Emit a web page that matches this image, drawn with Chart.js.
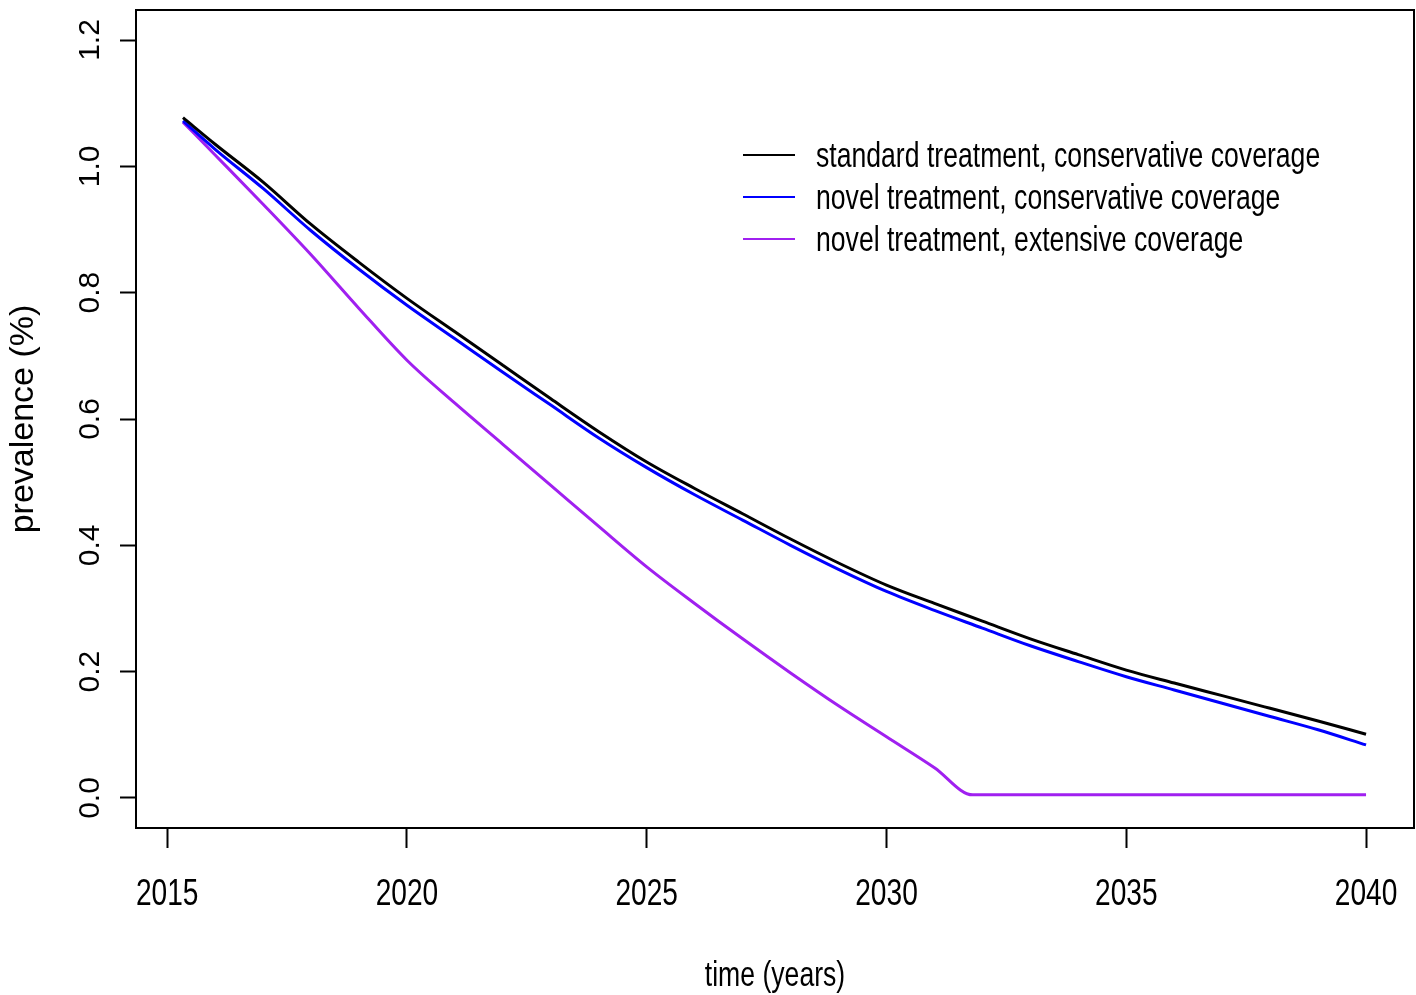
<!DOCTYPE html>
<html>
<head>
<meta charset="utf-8">
<script src="https://cdn.jsdelivr.net/npm/chart.js@4/dist/chart.umd.min.js"></script>
<style>
  html, body { margin: 0; padding: 0; background: #fff; }
  #wrap { width: 1416px; height: 995px; }
</style>
</head>
<body>
<div id="wrap"><canvas id="chart" width="1416" height="995"></canvas></div>
<script>
// Data
const years = [2015.33, 2016, 2017, 2018, 2019, 2020, 2021, 2022, 2023, 2024, 2025, 2026, 2027,
  2028, 2029, 2030, 2031, 2032, 2033, 2034, 2035, 2036, 2037, 2038, 2039, 2040];
const standardConservative = [1.077, 1.035, 0.975, 0.908, 0.848, 0.791, 0.738, 0.685, 0.632, 0.580,
  0.532, 0.490, 0.450, 0.410, 0.372, 0.337, 0.308, 0.280, 0.252, 0.227, 0.2025, 0.182, 0.162, 0.142, 0.122, 0.101];
const novelConservative = [1.072, 1.027, 0.965, 0.898, 0.837, 0.780, 0.727, 0.674, 0.622, 0.570,
  0.523, 0.480, 0.440, 0.400, 0.362, 0.327, 0.297, 0.269, 0.241, 0.216, 0.192, 0.171, 0.150, 0.129, 0.108, 0.084];
const extensiveYears = [2015.33, 2016, 2017, 2018, 2019, 2020, 2021, 2022, 2023, 2024, 2025, 2026, 2027,
  2028, 2029, 2030, 2031, 2031.8, 2040];
const novelExtensive = [1.070, 1.018, 0.940, 0.860, 0.775, 0.693, 0.625, 0.560, 0.495, 0.430,
  0.366, 0.308, 0.252, 0.198, 0.146, 0.097, 0.048, 0.005, 0.005];

const seriesNames = [
  'standard treatment, conservative coverage',
  'novel treatment, conservative coverage',
  'novel treatment, extensive coverage'
];
const xTicks = [2015, 2020, 2025, 2030, 2035, 2040];
const yTicks = [0.0, 0.2, 0.4, 0.6, 0.8, 1.0, 1.2];
const yTickLabels = ['0.0', '0.2', '0.4', '0.6', '0.8', '1.0', '1.2'];

const FONT = "'Liberation Sans', Arial, sans-serif";
const SQUEEZE = 0.76; // the x axis and legend text is condensed

const toPoints = (xs, ys) => xs.map((x, i) => ({ x: x, y: ys[i] }));

function narrowText(ctx, text, x, y) {
  ctx.save();
  ctx.translate(x, y);
  ctx.scale(SQUEEZE, 1);
  ctx.fillText(text, 0, 0);
  ctx.restore();
}

// R-style box, rotated y labels, titles and legend
const rStyle = {
  id: 'rStyle',
  afterDraw(chart) {
    const { ctx, chartArea: a, scales } = chart;
    ctx.save();
    ctx.strokeStyle = '#000';
    ctx.lineWidth = 2;
    ctx.strokeRect(a.left, a.top, a.right - a.left, a.bottom - a.top);

    ctx.fillStyle = '#000';
    // y tick labels, rotated
    ctx.font = '30px ' + FONT;
    ctx.textAlign = 'center';
    ctx.textBaseline = 'alphabetic';
    yTicks.forEach((v, i) => {
      const py = scales.y.getPixelForValue(v);
      ctx.save();
      ctx.translate(99, py);
      ctx.rotate(-Math.PI / 2);
      ctx.fillText(yTickLabels[i], 0, 0);
      ctx.restore();
    });
    // y title
    ctx.save();
    ctx.font = '34px ' + FONT;
    ctx.translate(33, (a.top + a.bottom) / 2);
    ctx.rotate(-Math.PI / 2);
    ctx.fillText('prevalence (%)', 0, 0);
    ctx.restore();

    // x tick labels
    ctx.font = '37px ' + FONT;
    xTicks.forEach(v => {
      narrowText(ctx, String(v), scales.x.getPixelForValue(v), 905);
    });
    // x title
    ctx.font = '35px ' + FONT;
    narrowText(ctx, 'time (years)', (a.left + a.right) / 2, 986);

    // legend
    ctx.textAlign = 'left';
    ctx.font = '35px ' + FONT;
    chart.data.datasets.forEach((ds, i) => {
      const ly = 155 + i * 42;
      ctx.strokeStyle = ds.borderColor;
      ctx.lineWidth = 2;
      ctx.beginPath();
      ctx.moveTo(743, ly);
      ctx.lineTo(795, ly);
      ctx.stroke();
      narrowText(ctx, ds.label, 816, ly + 12);
    });
    ctx.restore();
  }
};

const ctx = document.getElementById('chart').getContext('2d');
new Chart(ctx, {
  type: 'line',
  data: {
    datasets: [
      { label: seriesNames[0], data: toPoints(years, standardConservative), borderColor: '#000000' },
      { label: seriesNames[1], data: toPoints(years, novelConservative), borderColor: '#0000FF' },
      { label: seriesNames[2], data: toPoints(extensiveYears, novelExtensive), borderColor: '#A020F0' }
    ].map(d => Object.assign(d, { borderWidth: 3, pointRadius: 0, cubicInterpolationMode: 'monotone', fill: false }))
  },
  options: {
    responsive: false,
    animation: false,
    layout: { padding: { left: 0, top: 10, right: 2, bottom: 0 } },
    plugins: { legend: { display: false }, tooltip: { enabled: false } },
    scales: {
      x: {
        type: 'linear',
        min: 2014.35,
        max: 2041.0,
        afterBuildTicks: s => { s.ticks = xTicks.map(v => ({ value: v })); },
        afterFit: s => { s.height = 167; },
        grid: { display: true, drawOnChartArea: false, drawTicks: true, tickLength: 20, tickColor: '#000', tickWidth: 2 },
        border: { display: false },
        ticks: { display: false }
      },
      y: {
        min: -0.0475,
        max: 1.2475,
        afterBuildTicks: s => { s.ticks = yTicks.map(v => ({ value: v })); },
        afterFit: s => { s.width = 136; },
        grid: { display: true, drawOnChartArea: false, drawTicks: true, tickLength: 16, tickColor: '#000', tickWidth: 2 },
        border: { display: false },
        ticks: { display: false }
      }
    }
  },
  plugins: [rStyle]
});
</script>
</body>
</html>
